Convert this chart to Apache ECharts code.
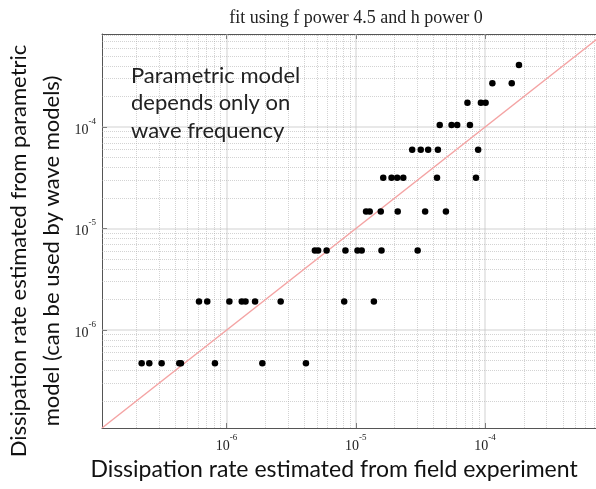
<!DOCTYPE html>
<html><head><meta charset="utf-8">
<script src="https://cdn.jsdelivr.net/npm/echarts@6/dist/echarts.min.js"></script>
<style>html,body{margin:0;padding:0;background:#fff}#c{width:596px;height:489px}</style>
</head><body><div id="c"></div>
<script>
const titleText = 'fit using f power 4.5 and h power 0';
const xAxisTitle = 'Dissipation rate estimated from field experiment';
const yAxisTitle1 = 'Dissipation rate estimated from parametric';
const yAxisTitle2 = 'model (can be used by wave models)';
const noteText = 'Parametric model\ndepends only on\nwave frequency';
const axisMin = 1.085e-7;
const axisMax = 8.26e-4;

// field-experiment estimate (x) and parametric-model estimate (y), paired
const fieldRate = [
  2.20e-7, 2.52e-7, 3.14e-7, 4.30e-7, 4.43e-7, 8.12e-7, 1.89e-6, 4.11e-6,
  6.11e-7, 7.08e-7, 1.05e-6, 1.31e-6, 1.40e-6, 1.66e-6, 2.62e-6, 8.13e-6, 1.38e-5,
  4.82e-6, 5.11e-6, 5.94e-6, 8.31e-6, 1.03e-5, 1.11e-5, 1.58e-5, 3.01e-5,
  1.20e-5, 1.28e-5, 1.56e-5, 2.11e-5, 3.44e-5, 4.98e-5,
  1.63e-5, 1.89e-5, 2.09e-5, 2.33e-5, 4.25e-5, 8.51e-5,
  2.73e-5, 3.18e-5, 3.63e-5, 4.32e-5, 8.85e-5,
  4.46e-5, 5.51e-5, 6.09e-5, 7.64e-5,
  7.31e-5, 9.29e-5, 1.01e-4,
  1.14e-4, 1.61e-4,
  1.83e-4
];
const modelRate = [
  4.71e-7, 4.71e-7, 4.71e-7, 4.71e-7, 4.71e-7, 4.71e-7, 4.71e-7, 4.71e-7,
  1.91e-6, 1.91e-6, 1.91e-6, 1.91e-6, 1.91e-6, 1.91e-6, 1.91e-6, 1.91e-6, 1.91e-6,
  6.08e-6, 6.08e-6, 6.08e-6, 6.08e-6, 6.08e-6, 6.08e-6, 6.08e-6, 6.08e-6,
  1.47e-5, 1.47e-5, 1.47e-5, 1.47e-5, 1.47e-5, 1.47e-5,
  3.16e-5, 3.16e-5, 3.16e-5, 3.16e-5, 3.16e-5, 3.16e-5,
  5.98e-5, 5.98e-5, 5.98e-5, 5.98e-5, 5.98e-5,
  1.05e-4, 1.05e-4, 1.05e-4, 1.05e-4,
  1.74e-4, 1.74e-4, 1.74e-4,
  2.71e-4, 2.71e-4,
  4.10e-4
];
// one-to-one reference line
const identityX = [axisMin, axisMax];
const identityY = [axisMin, axisMax];
const decades = [-7, -6, -5, -4, -3];

const majorVals = [], minorVals = [];
decades.forEach(d => {
  for (let k = 1; k <= 9; k++) {
    const v = k * Math.pow(10, d);
    if (v > axisMin && v < axisMax) (k === 1 ? majorVals : minorVals).push(v);
  }
});

const chart = echarts.init(document.getElementById('c'), null, {renderer: 'canvas'});
const serifFont = '"Liberation Serif", "Times New Roman", serif';
function tickFmt(v) {
  const l = Math.log10(v), e = Math.round(l);
  if (Math.abs(l - e) > 0.01) return '';
  return '{b|10}{s|' + e + '}';
}
const richLbl = {
  b: {fontFamily: serifFont, fontSize: 14, color: '#222', lineHeight: 20, verticalAlign: 'bottom'},
  s: {fontFamily: serifFont, fontSize: 9, color: '#222', lineHeight: 10, verticalAlign: 'top'}
};
const axisLineStyle = {color: '#555', width: 1};
const majorStyle = {type: 'solid', color: '#c4c4c4', width: 1.5};
const minorStyle = {type: 'dotted', color: '#a8a8a8', width: 1};
const gridLines = [];
majorVals.forEach(v => {
  gridLines.push({coords: [[v, axisMin], [v, axisMax]], lineStyle: majorStyle});
  gridLines.push({coords: [[axisMin, v], [axisMax, v]], lineStyle: majorStyle});
});
minorVals.forEach(v => {
  gridLines.push({coords: [[v, axisMin], [v, axisMax]], lineStyle: minorStyle});
  gridLines.push({coords: [[axisMin, v], [axisMax, v]], lineStyle: minorStyle});
});

chart.setOption({
  animation: false,
  backgroundColor: '#fff',
  title: {
    text: titleText, left: 351, top: 4, textAlign: 'center',
    textStyle: {fontFamily: serifFont, fontSize: 18, fontWeight: 'normal', color: '#222'}
  },
  grid: {left: 102, top: 34, right: -7.5, bottom: 61, containLabel: false, outerBoundsMode: 'none'},
  xAxis: [{
    type: 'log', logBase: 10, min: axisMin, max: axisMax,
    axisLine: {show: true, onZero: false, lineStyle: axisLineStyle},
    axisTick: {show: true, inside: true, length: 5, lineStyle: axisLineStyle},
    axisLabel: {formatter: tickFmt, rich: richLbl, margin: 5, showMinLabel: false, showMaxLabel: false},
    splitLine: {show: false}, minorTick: {show: false}
  }, {
    type: 'log', logBase: 10, min: axisMin, max: axisMax, position: 'top',
    axisLine: {show: true, onZero: false, lineStyle: axisLineStyle},
    axisTick: {show: true, inside: true, length: 5, lineStyle: axisLineStyle},
    axisLabel: {show: false}, splitLine: {show: false}
  }],
  yAxis: [{
    type: 'log', logBase: 10, min: axisMin, max: axisMax,
    axisLine: {show: true, onZero: false, lineStyle: axisLineStyle},
    axisTick: {show: true, inside: true, length: 5, lineStyle: axisLineStyle},
    axisLabel: {formatter: tickFmt, rich: richLbl, margin: 6, showMinLabel: false, showMaxLabel: false},
    splitLine: {show: false}
  }],
  graphic: [{
    type: 'text', left: 131, top: 62, z: 10,
    style: {text: noteText, font: '22px Lato', fill: '#222', lineHeight: 27.5}
  }, {
    type: 'text', x: 334, y: 470, z: 10,
    style: {text: xAxisTitle, font: '23px Lato', fill: '#111', align: 'center', verticalAlign: 'middle'}
  }, {
    type: 'text', x: 19, y: 251, rotation: Math.PI / 2, z: 10,
    style: {text: yAxisTitle1, font: '22px Lato', fill: '#111', align: 'center', verticalAlign: 'middle'}
  }, {
    type: 'text', x: 52, y: 251, rotation: Math.PI / 2, z: 10,
    style: {text: yAxisTitle2, font: '22px Lato', fill: '#111', align: 'center', verticalAlign: 'middle'}
  }],
  series: [{
    type: 'lines', coordinateSystem: 'cartesian2d', xAxisIndex: 0, yAxisIndex: 0,
    data: gridLines, silent: true, z: 1, polyline: false
  }, {
    type: 'line', data: identityX.map((x, i) => [x, identityY[i]]), symbol: 'none', z: 2,
    lineStyle: {color: '#f4a3a3', width: 1.5}, silent: true
  }, {
    type: 'scatter', data: fieldRate.map((x, i) => [x, modelRate[i]]), symbol: 'circle', symbolSize: 6.5, z: 3,
    itemStyle: {color: '#000', opacity: 1}, silent: true
  }]
});
</script></body></html>
